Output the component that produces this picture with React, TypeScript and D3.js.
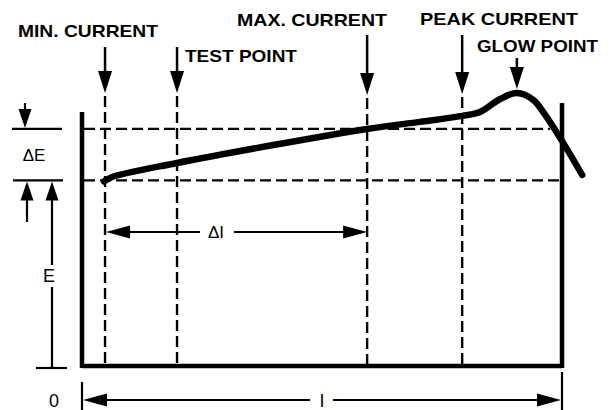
import React, { useMemo } from 'react';
import * as d3 from 'd3';

// current (I) and voltage (E) in arbitrary percent-of-range units
const markerLabels = ['MIN. CURRENT', 'TEST POINT', 'MAX. CURRENT', 'PEAK CURRENT', 'GLOW POINT'];
const markerCurrents = [4.8, 19.8, 59.4, 79.2, 90.6];
const curveCurrents = [4.6, 6.3, 19.8, 59.4, 70.4, 79.2, 82.9, 87.1, 90.6, 94.0, 96.5, 100.0, 104.2];
const curveVoltages = [70.6, 72.3, 77.7, 90.8, 93.5, 95.8, 97.3, 102.3, 104.6, 102.0, 96.2, 86.2, 73.1];
const voltageLevels = [71.0, 90.8];
const dimensionLabels = ['\u0394E', 'E', '\u0394I', 'I', '0'];

const W = 614;
const H = 410;
const frame = { left: 82, right: 562, bottom: 366 };

// label / arrow layout for each marker
const markerLayout = [
  { tx: 18, ty: 37, tw: 140, a0: 47, a1: 93, dashed: true },
  { tx: 185, ty: 62, tw: 112, a0: 47, a1: 93, dashed: true },
  { tx: 237, ty: 26, tw: 150, a0: 35, a1: 95, dashed: true },
  { tx: 420, ty: 25, tw: 158, a0: 35, a1: 94, dashed: true },
  { tx: 477, ty: 52, tw: 121, a0: 58, a1: 89, dashed: false },
];

const head = (x: number, y: number, dir: 'up' | 'down' | 'left' | 'right', len = 20, half = 6.5) => {
  if (dir === 'down') return `M${x},${y}L${x - half},${y - len}L${x + half},${y - len}Z`;
  if (dir === 'up') return `M${x},${y}L${x - half},${y + len}L${x + half},${y + len}Z`;
  if (dir === 'left') return `M${x},${y}L${x + len},${y - half}L${x + len},${y + half}Z`;
  return `M${x},${y}L${x - len},${y - half}L${x - len},${y + half}Z`;
};

const App: React.FC = () => {
  const x = useMemo(() => d3.scaleLinear().domain([0, 100]).range([frame.left, frame.right]), []);
  const y = useMemo(() => d3.scaleLinear().domain([0, 100]).range([365, 105]), []);

  const curve = d3
    .line<number>()
    .x((d, i) => x(curveCurrents[i]))
    .y((d) => y(d))
    .curve(d3.curveCatmullRom.alpha(0.5))(curveVoltages);

  const yLow = y(voltageLevels[0]);
  const yHigh = y(voltageLevels[1]);
  const xMin = x(markerCurrents[0]);
  const xMax = x(markerCurrents[2]);
  const dash = '11,5';
  const font = '"Liberation Sans", Arial, Helvetica, sans-serif';

  return (
    <svg width={W} height={H} style={{ position: 'absolute', left: 0, top: 0, background: '#fff' }}>
      <g fontFamily={font} fill="#000">
        {/* dashed guide lines */}
        <g stroke="#000" strokeWidth={2.4} strokeDasharray={dash} fill="none">
          <line x1={frame.left + 2} x2={x(97.5)} y1={yHigh} y2={yHigh} />
          <line x1={frame.left + 2} x2={frame.right} y1={yLow} y2={yLow} />
          {markerCurrents.map((c, i) =>
            markerLayout[i].dashed ? (
              <line key={i} x1={x(c)} x2={x(c)} y1={markerLayout[i].a1 + 3} y2={frame.bottom} />
            ) : null
          )}
        </g>

        {/* frame */}
        <g stroke="#000" strokeWidth={4.5} fill="none">
          <line x1={frame.left} x2={frame.left} y1={112} y2={frame.bottom + 2} />
          <line x1={frame.right} x2={frame.right} y1={103} y2={frame.bottom + 2} />
          <line x1={frame.left} x2={frame.right} y1={frame.bottom} y2={frame.bottom} />
        </g>

        {/* characteristic curve */}
        <path d={curve || ''} fill="none" stroke="#000" strokeWidth={6.5} strokeLinecap="round" strokeLinejoin="round" />

        {/* marker labels and arrows */}
        {markerLabels.map((lab, i) => {
          const m = markerLayout[i];
          const cx = x(markerCurrents[i]);
          return (
            <g key={lab}>
              <text x={m.tx} y={m.ty} fontSize={17} fontWeight="bold" textLength={m.tw} lengthAdjust="spacingAndGlyphs">
                {lab}
              </text>
              <line x1={cx} x2={cx} y1={m.a0} y2={m.a1 - 10} stroke="#000" strokeWidth={2.5} />
              <path d={head(cx, m.a1, 'down', 22, 7)} />
            </g>
          );
        })}

        {/* delta E dimension */}
        <g stroke="#000" strokeWidth={2.2}>
          <line x1={12} x2={62} y1={yHigh} y2={yHigh} />
          <line x1={13} x2={63} y1={yLow} y2={yLow} />
          <line x1={25} x2={25} y1={103} y2={yHigh - 10} />
          <line x1={27} x2={27} y1={yLow + 10} y2={222} />
          <line x1={52} x2={52} y1={yLow + 10} y2={265} />
          <line x1={52} x2={52} y1={287} y2={frame.bottom + 2} />
          <line x1={36} x2={67} y1={frame.bottom + 2} y2={frame.bottom + 2} />
        </g>
        <path d={head(25, yHigh - 1, 'down', 19, 6.5)} />
        <path d={head(27, yLow + 1, 'up', 19, 6.5)} />
        <path d={head(52, yLow + 1, 'up', 19, 6.5)} />
        <text x={34} y={(yHigh + yLow) / 2 + 6} fontSize={17} textAnchor="middle">
          {dimensionLabels[0]}
        </text>
        <text x={49} y={282} fontSize={18} textAnchor="middle">
          {dimensionLabels[1]}
        </text>

        {/* delta I dimension */}
        <g stroke="#000" strokeWidth={2.2}>
          <line x1={xMin + 10} x2={200} y1={232} y2={232} />
          <line x1={234} x2={xMax - 10} y1={232} y2={232} />
        </g>
        <path d={head(xMin + 1, 232, 'left', 24, 6.5)} />
        <path d={head(xMax, 232, 'right', 24, 6.5)} />
        <text x={216} y={238} fontSize={17} textAnchor="middle">
          {dimensionLabels[2]}
        </text>

        {/* I dimension */}
        <g stroke="#000" strokeWidth={2.2}>
          <line x1={frame.left} x2={frame.left} y1={382} y2={410} />
          <line x1={frame.right} x2={frame.right} y1={372} y2={410} />
          <line x1={frame.left + 10} x2={310} y1={400} y2={400} />
          <line x1={333} x2={frame.right - 10} y1={400} y2={400} />
        </g>
        <path d={head(frame.left + 1, 400, 'left', 24, 6.5)} />
        <path d={head(frame.right - 1, 400, 'right', 24, 6.5)} />
        <text x={322} y={407} fontSize={18} textAnchor="middle">
          {dimensionLabels[3]}
        </text>
        <text x={54} y={407} fontSize={18} textAnchor="middle">
          {dimensionLabels[4]}
        </text>
      </g>
    </svg>
  );
};

export default App;
